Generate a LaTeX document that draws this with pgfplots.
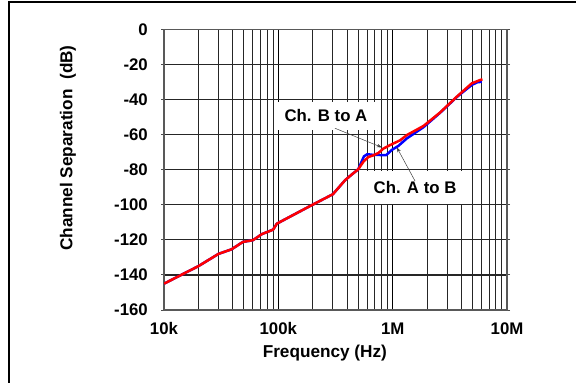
\documentclass[border=0pt]{standalone}
\usepackage{pgfplots}
\pgfplotsset{compat=1.18}
\usepackage{fontspec}
\setmainfont{Liberation Sans}
\usetikzlibrary{arrows.meta}
\begin{document}
\begin{tikzpicture}[x=1pt,y=1pt]
\begin{axis}[
  at={(164pt,73pt)}, anchor=south west,
  scale only axis, width=343pt, height=280.7pt,
  xmode=log, xmin=1e4, xmax=1e7, ymin=-160, ymax=0,
  xtick={1e4,1e5,1e6,1e7},
  xticklabels={10k,100k\hspace{15pt},1M\hspace{15pt},10M\hspace{17pt}},
  minor xtick={2e4,3e4,4e4,5e4,6e4,7e4,8e4,9e4,2e5,3e5,4e5,5e5,6e5,7e5,8e5,9e5,2e6,3e6,4e6,5e6,6e6,7e6,8e6,9e6},
  ytick={-160,-140,-120,-100,-80,-60,-40,-20,0},
  /pgf/number format/assume math mode=true,
  tick label style={font=\fontsize{16.8}{20}\selectfont\bfseries},
  xticklabel style={anchor=north, inner sep=0pt, yshift=-9.5pt},
  yticklabel style={anchor=east, inner sep=0pt, xshift=-13pt},
  tick align=outside, major tick length=3pt,
  xtick style={draw=none}, minor tick length=0pt,
  ytick style={black!70, line width=1pt},
  xmajorgrids=true, xminorgrids=true, ymajorgrids=true,
  major x grid style={black, line width=1.2pt},
  minor x grid style={black!85, line width=1pt},
  major y grid style={black!85, line width=1.2pt},
  axis line style={black!65, line width=1.2pt},
  xlabel={Frequency (Hz)},
  ylabel={Channel Separation\ \ (dB)},
  label style={font=\fontsize{17.2}{20}\selectfont\bfseries},
  xlabel style={at={(rel axis cs:0.469,-0.1675)}, anchor=base, inner sep=0pt},
  ylabel style={at={(rel axis cs:-0.28,0.577)}, anchor=center, rotate=0},
]
\addplot[blue, line width=2.5pt, line join=round] coordinates {
(10000,-145) (20000,-135) (30000,-128) (39000,-125.4) (49000,-121.2)
(60000,-120.2) (72000,-116.7) (90000,-114.2) (97000,-110.8) (190000,-100.7)
(300000,-94) (384000,-86) (440000,-82.7) (500000,-79.8) (530000,-76)
(560000,-72.5) (600000,-71.2) (680000,-71.6) (880000,-71.7) (980000,-68.8)
(1120000,-66.5) (1330000,-62.2) (1860000,-55.8) (2600000,-47.6) (3640000,-38.6)
(4920000,-31.7) (5500000,-30.2) (6020000,-29.9)
};
\addplot[red, line width=2.5pt, line join=round] coordinates {
(10000,-145) (20000,-135) (30000,-128) (39000,-125.4) (49000,-121.2)
(60000,-120.2) (72000,-116.7) (90000,-114.2) (97000,-110.8) (190000,-100.7)
(300000,-94) (384000,-86) (440000,-82.7) (500000,-79.8) (554000,-75.5)
(613000,-72.8) (680000,-71.8) (750000,-70.5) (830000,-68) (949000,-66)
(1160000,-63.3) (1330000,-60.3) (1860000,-55.1) (2600000,-47.4) (3640000,-38.4)
(4920000,-30.8) (5820000,-28.9) (6100000,-28.5)
};
\node[fill=white, inner xsep=8pt, inner ysep=8pt, font=\fontsize{16.8}{20}\selectfont\bfseries] at (axis cs:261000,-49.3) {Ch. B to A};
\node[fill=white, inner xsep=8pt, inner ysep=10pt, font=\fontsize{16.8}{20}\selectfont\bfseries] at (axis cs:1570000,-90.2) {Ch. A to B};
\draw[-{Stealth[length=5pt,width=3.5pt]}, black!75, line width=0.5pt] (axis cs:313000,-56.4) -- (axis cs:803000,-67.3);
\draw[-{Stealth[length=5pt,width=3.5pt]}, black!75, line width=0.5pt] (axis cs:1570000,-86.5) -- (axis cs:1087000,-67.3);
\end{axis}
\draw[line width=2.5pt] (9,-10) -- (9,381) -- (600,381);
\pgfresetboundingbox
\path[use as bounding box] (0,0) rectangle (576,383);
\end{tikzpicture}
\end{document}
